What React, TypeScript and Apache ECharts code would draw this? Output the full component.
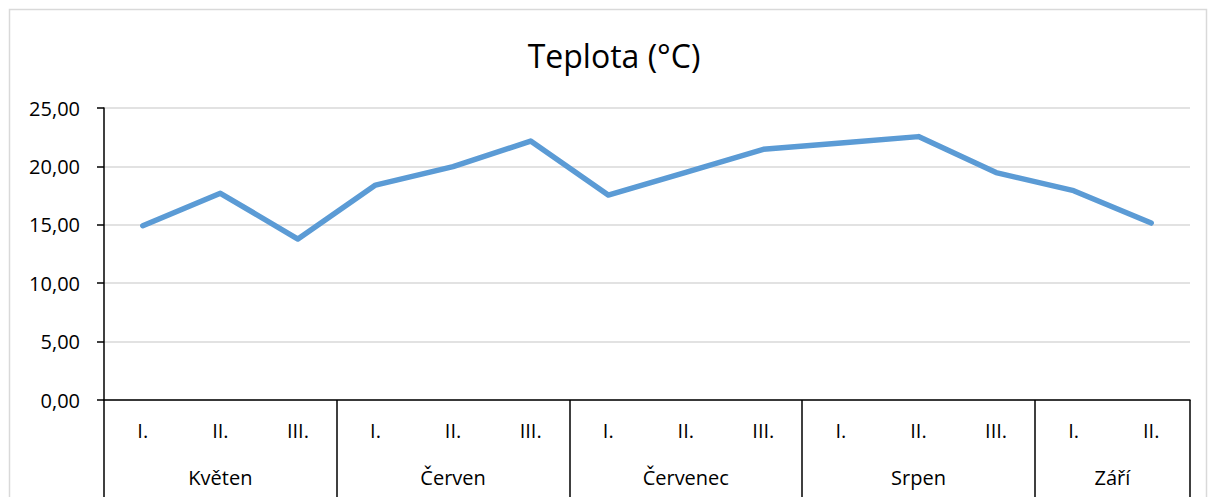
import React, { useEffect, useRef } from "react";
import * as echarts from "echarts";

const subCategories = ["I.", "II.", "III.", "I.", "II.", "III.", "I.", "II.", "III.", "I.", "II.", "III.", "I.", "II."];
const months = ["Květen", "Červen", "Červenec", "Srpen", "Září"];
const monthSizes = [3, 3, 3, 3, 2];
const temperature = [14.92, 17.7, 13.78, 18.4, 19.98, 22.17, 17.55, 19.49, 21.46, 22.0, 22.55, 19.47, 17.92, 15.15];
const yMin = 0;
const yMax = 25;
const yStep = 5;
const titleText = "Teplota (°C)";

const FONT = "Open Sans";

export default function App() {
  const ref = useRef<HTMLDivElement>(null);
  useEffect(() => {
    if (!ref.current) return;
    const chart = echarts.init(ref.current, null, { renderer: "svg" });

    // build the month axis: half-category resolution
    const total = monthSizes.reduce((a, b) => a + b, 0);
    const monthAxisData: string[] = new Array(total * 2 + 1).fill("");
    const boundaries: number[] = [0];
    let start = 0;
    months.forEach((m, i) => {
      monthAxisData[start * 2 + monthSizes[i]] = m;
      start += monthSizes[i];
      boundaries.push(start * 2);
    });

    chart.setOption({
      animation: false,
      backgroundColor: "#ffffff",
      graphic: [
        {
          type: "rect",
          shape: { x: 9.5, y: 9.5, width: 1197, height: 600 },
          style: { fill: "none", stroke: "#d9d9d9", lineWidth: 1.5 },
          silent: true,
        },
        {
          type: "text",
          x: 614,
          y: 55,
          style: {
            text: titleText,
            textAlign: "center",
            textVerticalAlign: "middle",
            fontFamily: FONT,
            fontSize: 32,
            fill: "#000",
          },
          silent: true,
        },
      ],
      grid: { left: 104, right: 20, top: 108, bottom: 97, containLabel: false },
      xAxis: [
        {
          type: "category",
          data: subCategories,
          boundaryGap: true,
          position: "bottom",
          offset: 0,
          axisLine: { show: true, lineStyle: { color: "#000", width: 1.5 } },
          axisTick: { show: false },
          axisLabel: { interval: 0, margin: 20, fontFamily: FONT, fontSize: 20, color: "#000" },
          splitLine: { show: false },
        },
        {
          type: "category",
          data: monthAxisData,
          boundaryGap: false,
          position: "bottom",
          offset: 0,
          axisLine: { show: false },
          axisTick: {
            show: true,
            length: 100,
            interval: (idx: number) => boundaries.includes(idx),
            lineStyle: { color: "#000", width: 1.5 },
          },
          axisLabel: { interval: 0, margin: 67, fontFamily: FONT, fontSize: 20, color: "#000" },
          splitLine: { show: false },
        },
      ],
      yAxis: {
        type: "value",
        min: yMin,
        max: yMax,
        interval: yStep,
        axisLine: { show: true, lineStyle: { color: "#000", width: 1.5 } },
        axisTick: { show: true, length: 7, lineStyle: { color: "#000", width: 1.5 } },
        axisLabel: {
          margin: 24,
          fontFamily: FONT,
          fontSize: 20,
          color: "#000",
          formatter: (v: number) => v.toFixed(2).replace(".", ","),
        },
        splitLine: { show: true, lineStyle: { color: "#d9d9d9", width: 1.5 } },
      },
      series: [
        {
          type: "line",
          xAxisIndex: 0,
          data: temperature,
          symbol: "none",
          lineStyle: { color: "#5b9bd5", width: 5.5, cap: "round", join: "round" },
        },
      ],
    });
    return () => chart.dispose();
  }, []);
  return (
    <div
      ref={ref}
      style={{ position: "fixed", left: 0, top: 0, width: 1210, height: 497, background: "#fff" }}
    />
  );
}
